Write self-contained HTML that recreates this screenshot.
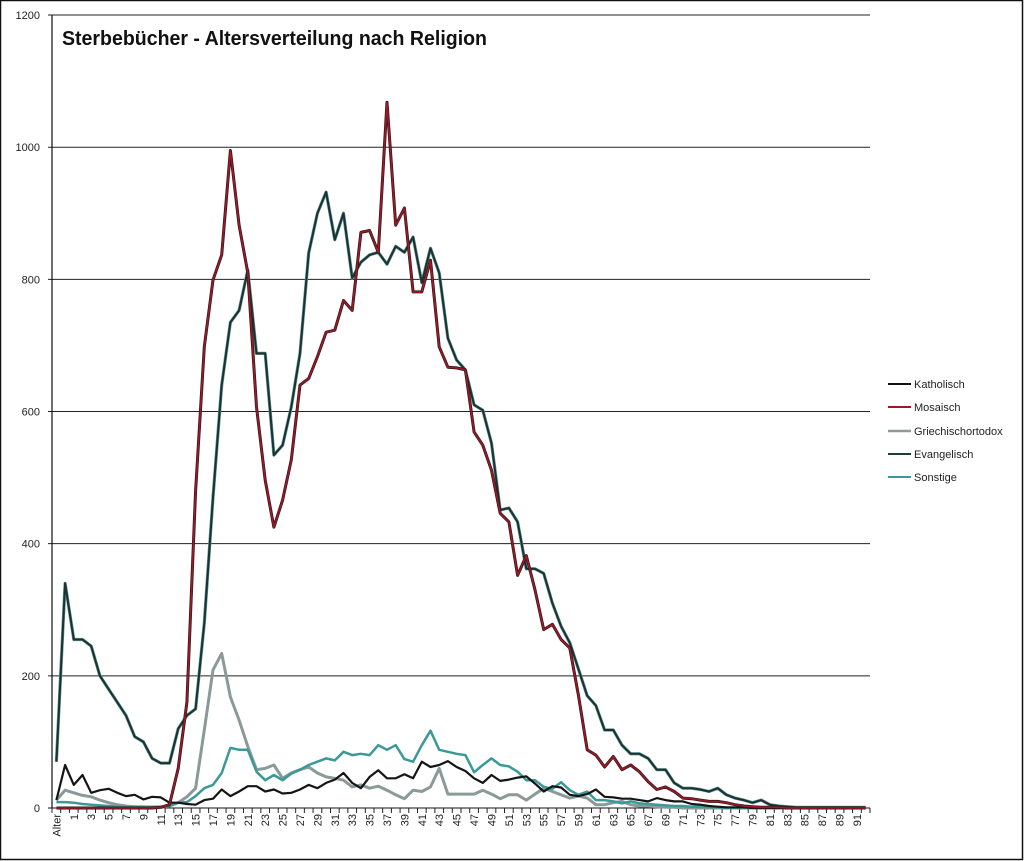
<!DOCTYPE html>
<html><head><meta charset="utf-8"><style>
html,body{margin:0;padding:0;background:#fff}
svg{display:block;font-family:"Liberation Sans",sans-serif}
</style></head><body>
<svg id="c" width="1024" height="861" viewBox="0 0 1024 861" xmlns="http://www.w3.org/2000/svg">
<rect x="0.5" y="0.5" width="1022" height="859" fill="#fff" stroke="#111" stroke-width="1.5"/>
<g id="grid"></g>
<text x="62" y="45" font-size="20" font-weight="bold" fill="#111" textLength="425" lengthAdjust="spacingAndGlyphs">Sterbebücher - Altersverteilung nach Religion</text>
<g id="series"></g>
<g id="legend" font-size="11" fill="#222">
<line x1="888" y1="384" x2="911" y2="384" stroke="#111" stroke-width="2"/><text x="914" y="388">Katholisch</text>
<line x1="888" y1="407" x2="911" y2="407" stroke="#a01828" stroke-width="2"/><text x="914" y="411">Mosaisch</text>
<line x1="888" y1="431" x2="911" y2="431" stroke="#8a9a98" stroke-width="2.5"/><text x="914" y="435">Griechischortodox</text>
<line x1="888" y1="454" x2="911" y2="454" stroke="#1e3c3c" stroke-width="2"/><text x="914" y="458">Evangelisch</text>
<line x1="888" y1="477" x2="911" y2="477" stroke="#3a9a98" stroke-width="2"/><text x="914" y="481">Sonstige</text>
</g>
</svg>
<script>
var NS="http://www.w3.org/2000/svg";
function el(t,a,p,txt){var e=document.createElementNS(NS,t);for(var k in a)e.setAttribute(k,a[k]);if(txt!=null)e.textContent=txt;p.appendChild(e);return e;}
var g=document.getElementById('grid'),s=document.getElementById('series');
var X0=52,X1=870,Y0=808,K=0.6608,N=94,CW=(X1-X0)/N;
function xi(i){return X0+CW*(i+0.5);}
function yv(v){return Y0-v*K;}
for(var v=0;v<=1200;v+=200){var y=yv(v);
 el('line',{x1:X0-4,y1:y,x2:X1,y2:y,stroke:v==0?'#111':'#222','stroke-width':1},g);
 el('text',{x:40,y:y+4,'font-size':11,'text-anchor':'end',fill:'#222'},g,String(v));}
el('line',{x1:X0,y1:yv(1200),x2:X0,y2:Y0,stroke:'#111','stroke-width':1.2},g);
for(var i=0;i<=N;i++){var x=X0+CW*i;el('line',{x1:x,y1:Y0,x2:x,y2:Y0+5,stroke:'#222','stroke-width':1},g);}
for(var i=0;i<N;i+=2){var lab=i==0?'Alter':String(i-1);var x=xi(i);
 el('text',{x:0,y:0,'font-size':11,'text-anchor':'end',fill:'#222',transform:'translate('+(x+4)+','+(Y0+6)+') rotate(-90)'},g,lab);}
function pad(a){while(a.length<N)a.push(0);return a;}
var ev=pad([70,340,255,255,245,200,180,160,140,108,100,75,68,68,120,140,150,280,470,640,735,753,814,688,688,534,549,607,688,840,900,932,860,900,802,826,837,841,823,850,841,864,795,847,810,711,678,663,610,602,552,451,454,433,362,362,355,310,275,250,210,170,155,118,118,95,82,82,75,58,58,38,30,30,28,25,30,20,15,12,8,12,5,3,2,1,1,1,1,1,1,1,1,1]);
var red=pad([0,0,0,0,0,0,0,0,0,0,0,0,1,5,60,160,480,698,799,837,995,882,810,607,496,425,466,527,640,650,683,720,723,768,753,871,874,841,1068,882,908,781,781,829,698,667,666,663,569,549,511,446,433,352,382,330,270,278,255,242,170,88,80,62,78,58,65,55,40,28,32,25,15,14,12,10,10,8,5,3,2,1,1,1]);
var mos=pad([12,65,35,50,23,27,29,23,18,20,13,17,16,8,8,6,5,12,14,28,18,25,33,33,25,28,22,23,28,35,30,38,43,53,38,30,47,57,45,45,51,45,70,62,65,71,62,56,45,38,50,41,43,46,48,37,25,33,31,20,18,21,28,17,16,14,14,12,10,15,12,10,10,6,5,3,2,1,1,1]);
var gr=pad([12,27,23,19,17,12,8,5,3,2,2,1,1,3,8,17,30,118,209,234,168,133,93,58,60,65,45,53,58,62,53,47,45,42,32,35,30,33,27,20,14,27,25,32,60,21,21,21,21,27,21,14,20,20,12,21,30,25,20,15,18,15,5,5,8,10,5,3,3,2,1,1]);
var so=pad([9,9,8,6,5,4,3,2,1,1,1,2,2,3,8,9,18,30,35,53,91,88,88,55,42,50,42,52,58,65,70,75,72,85,80,82,80,95,88,95,74,70,95,117,88,85,82,80,54,65,75,65,63,55,42,42,32,29,39,27,20,25,12,12,10,7,10,7,6,5,4,3,3,2,2,1,1]);
function pts(a){return a.map(function(v,i){return xi(i).toFixed(1)+','+yv(v).toFixed(1);}).join(' ');}
function line(a,c,w){el('polyline',{points:pts(a),fill:'none',stroke:c,'stroke-width':w,'stroke-linejoin':'round'},s);}
line(gr,'#8a9a98',3);
line(so,'#3a9a98',2.5);
line(mos,'#151515',2.2);
line(ev,'#5a9a98',3.2);line(ev,'#1e3030',2);
line(red,'#2a1a1a',3);line(red,'#a01828',1.6);
</script>
</body></html>
